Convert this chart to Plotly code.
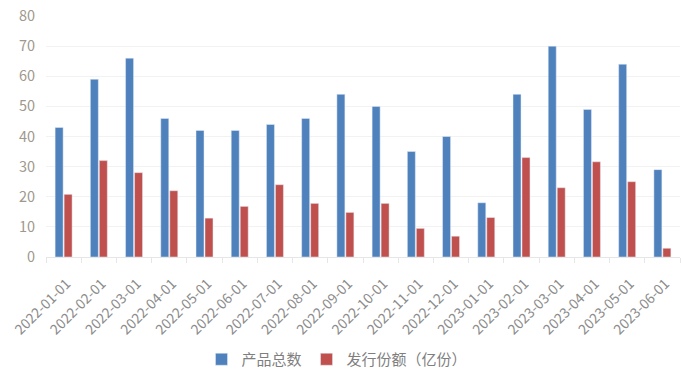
import plotly.graph_objects as go

months = ["2022-01-01", "2022-02-01", "2022-03-01", "2022-04-01", "2022-05-01", "2022-06-01",
          "2022-07-01", "2022-08-01", "2022-09-01", "2022-10-01", "2022-11-01", "2022-12-01",
          "2023-01-01", "2023-02-01", "2023-03-01", "2023-04-01", "2023-05-01", "2023-06-01"]
product_count = [43, 59, 66, 46, 42, 42, 44, 46, 54, 50, 35, 40, 18, 54, 70, 49, 64, 29]
issue_share = [20.8, 32, 28, 22, 12.9, 16.8, 24, 17.8, 14.8, 17.8, 9.5, 6.9, 13.1, 33, 23, 31.6, 25, 2.9]

fig = go.Figure()
fig.add_trace(go.Bar(x=months, y=product_count, name="产品总数", marker_color="#4f81bd"))
fig.add_trace(go.Bar(x=months, y=issue_share, name="发行份额（亿份）", marker_color="#c0504d"))

fig.update_layout(
    width=681, height=376,
    margin=dict(l=46, r=1, t=16, b=118),
    paper_bgcolor="white", plot_bgcolor="white",
    barmode="group", bargap=0.49, bargroupgap=0.11,
    font=dict(family="Noto Sans CJK SC, Noto Sans, sans-serif", color="#8c8c8c"),
    legend=dict(orientation="h", x=0.459, xanchor="center", y=-0.42, yanchor="middle",
                font=dict(size=15, color="#7f7f7f"), itemwidth=30, traceorder="normal"),
)
fig.update_xaxes(
    type="category", tickangle=-45, tickfont=dict(size=14, color="#8c8c8c"),
    showline=True, linecolor="#e6e6e6", ticks="outside", ticklen=5, tickcolor="#e6e6e6",
    tickson="boundaries", showgrid=False, automargin=False,
    ticklabelstandoff=12, ticklabelshift=3, ticklabeloverflow="allow",
)
fig.update_yaxes(
    range=[0, 80], dtick=10, tickfont=dict(size=14.5, color="#a0988e"),
    showgrid=True, gridcolor="#f2f2f2", zeroline=False, showline=False, ticks="",
    automargin=False, ticklabelstandoff=10, ticklabeloverflow="allow",
)
fig.write_html("out.html", config={"displayModeBar": False},
               post_script="document.body.style.margin='0px';")
